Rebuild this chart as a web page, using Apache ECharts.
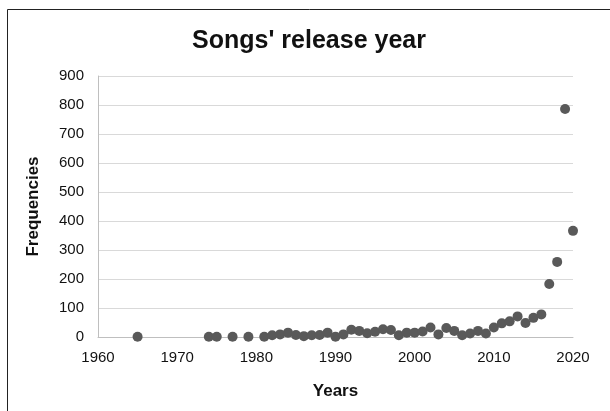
<!DOCTYPE html>
<html>
<head>
<meta charset="utf-8">
<script src="https://cdn.jsdelivr.net/npm/echarts@6/dist/echarts.min.js"></script>
<style>
html,body{margin:0;padding:0;background:#fff;}
#chart{width:610px;height:411px;}
</style>
</head>
<body>
<div id="chart"></div>
<script>
var years = [1965, 1974, 1975, 1977, 1979,
  1981, 1982, 1983, 1984, 1985, 1986, 1987, 1988, 1989, 1990,
  1991, 1992, 1993, 1994, 1995, 1996, 1997, 1998, 1999, 2000,
  2001, 2002, 2003, 2004, 2005, 2006, 2007, 2008, 2009, 2010,
  2011, 2012, 2013, 2014, 2015, 2016, 2017, 2018, 2019, 2020];
var frequencies = [1, 1, 1, 1, 1,
  1, 6, 9, 15, 7, 3, 6, 7, 15, 1,
  9, 25, 21, 13, 18, 27, 24, 6, 15, 15,
  19, 33, 9, 31, 21, 6, 12, 21, 12, 33,
  47, 54, 71, 48, 66, 78, 183, 259, 786, 366];
var xTicks = [1960, 1970, 1980, 1990, 2000, 2010, 2020];
var yTicks = [0, 100, 200, 300, 400, 500, 600, 700, 800, 900];

var points = years.map(function (y, i) { return [y, frequencies[i]]; });
var font = '"Liberation Sans", Arial, sans-serif';

var chart = echarts.init(document.getElementById('chart'), null, {renderer: 'canvas'});
chart.setOption({
  backgroundColor: '#ffffff',
  animation: false,
  title: {
    text: "Songs' release year",
    left: 304, top: 24, textAlign: 'center',
    textStyle: {fontFamily: font, fontSize: 25, fontWeight: 'bold', color: '#111'}
  },
  graphic: [{
    type: 'rect',
    shape: {x: 7.5, y: 9.5, width: 700, height: 500},
    style: {fill: 'none', stroke: '#222', lineWidth: 1}
  }],
  grid: {left: 98, right: 37, top: 76, bottom: 74},
  xAxis: {
    type: 'value', min: xTicks[0], max: xTicks[xTicks.length - 1], interval: 10,
    name: 'Years', nameLocation: 'middle', nameGap: 46,
    nameTextStyle: {fontFamily: font, fontSize: 17, fontWeight: 'bold', color: '#111'},
    axisLine: {show: true, lineStyle: {color: '#bfbfbf', width: 1}},
    axisTick: {show: false},
    splitLine: {show: false},
    axisLabel: {fontFamily: font, fontSize: 15, color: '#111', margin: 13,
      formatter: function (v) { return String(v); }}
  },
  yAxis: {
    type: 'value', min: yTicks[0], max: yTicks[yTicks.length - 1], interval: 100,
    name: 'Frequencies', nameLocation: 'middle', nameGap: 56, nameRotate: 90,
    nameTextStyle: {fontFamily: font, fontSize: 17, fontWeight: 'bold', color: '#111'},
    axisLine: {show: true, lineStyle: {color: '#bfbfbf', width: 1}},
    axisTick: {show: false},
    splitLine: {show: true, lineStyle: {color: '#d9d9d9', width: 1}},
    axisLabel: {fontFamily: font, fontSize: 15, color: '#111', margin: 14,
      formatter: function (v) { return String(v); }}
  },
  series: [{
    type: 'scatter',
    data: points,
    symbol: 'circle',
    symbolSize: 10,
    itemStyle: {color: '#595959', opacity: 1}
  }]
});
</script>
</body>
</html>
